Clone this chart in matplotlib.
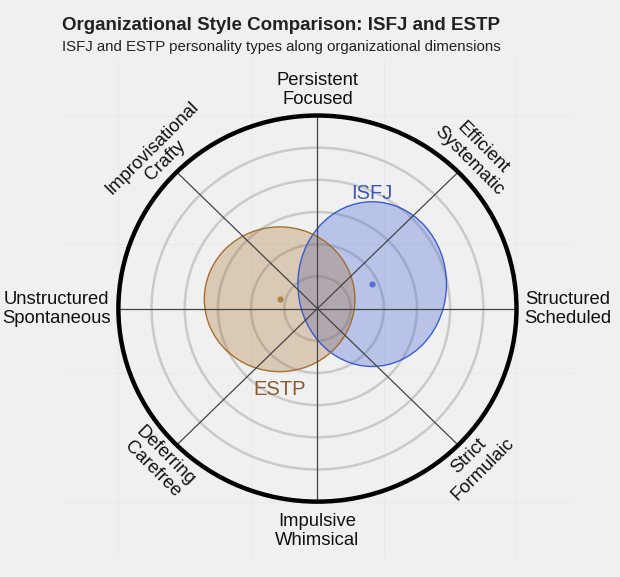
import numpy as np
import matplotlib
matplotlib.use("Agg")
import matplotlib.pyplot as plt
from matplotlib.patches import Ellipse, Circle

plt.rcParams['font.family'] = ['Liberation Sans', 'DejaVu Sans']

# ---- data ----
types = ['ISFJ', 'ESTP']
center_x = [1.65, -1.14]
center_y = [0.76, 0.29]
spread_x = [2.24, 2.27]
spread_y = [2.56, 2.25]
type_colors = ['#2850d2', '#a0641e']
label_colors = ['#3a56c0', '#8b5a2b']

dim_angles = [0, 45, 90, 135, 180, 225, 270, 315]
dim_labels = ['Structured\nScheduled', 'Efficient\nSystematic', 'Persistent\nFocused',
              'Improvisational\nCrafty', 'Unstructured\nSpontaneous', 'Deferring\nCarefree',
              'Impulsive\nWhimsical', 'Strict\nFormulaic']
ring_radii = [1, 2, 3, 4, 5]
outer_radius = 6

bg = '#f0f0f0'
fig = plt.figure(figsize=(6.2, 5.77), dpi=100, facecolor=bg)
ax = fig.add_axes([0.1, 0.0347, 0.824, 0.861])
ax.set_facecolor(bg)
ax.set_xlim(-7.7, 7.7)
ax.set_ylim(-7.72, 7.72)
for s in ax.spines.values():
    s.set_visible(False)
ax.set_xticks([-6, -2, 2, 6])
ax.set_yticks([-6, -2, 2, 6])
ax.tick_params(length=0, labelbottom=False, labelleft=False)
ax.grid(True, color='#e8e8e8', lw=0.6, zorder=0)
ax.set_axisbelow(True)

# rings
for r in ring_radii:
    ax.add_patch(Circle((0, 0), r, fill=False, ec='#cacaca', lw=1.8, zorder=1))

# ellipses
for i, t in enumerate(types):
    ax.add_patch(Ellipse((center_x[i], center_y[i]), 2 * spread_x[i], 2 * spread_y[i],
                         fc=type_colors[i], alpha=0.28, ec='none', zorder=2))
    ax.add_patch(Ellipse((center_x[i], center_y[i]), 2 * spread_x[i], 2 * spread_y[i],
                         fc='none', ec=type_colors[i], lw=1.0, alpha=0.9, zorder=3))
    ax.plot(center_x[i], center_y[i], 'o', ms=4.5, color=type_colors[i], alpha=0.7,
            mec='none', zorder=4)

# radial lines
for a in dim_angles:
    th = np.deg2rad(a)
    ax.plot([0, outer_radius * np.cos(th)], [0, outer_radius * np.sin(th)],
            color='#444444', lw=0.9, zorder=4)

ax.add_patch(Circle((0, 0), outer_radius, fill=False, ec='black', lw=3.2, zorder=5))

# type labels
ax.text(center_x[0], center_y[0] + spread_y[0] + 0.1, types[0], color=label_colors[0],
        fontsize=14.5, ha='center', va='baseline', zorder=6)
ax.text(center_x[1], center_y[1] - spread_y[1] - 0.25, types[1], color=label_colors[1],
        fontsize=14.5, ha='center', va='top', zorder=6)

# dimension labels
fs = 13.3
lab_r = 6.22
for a, lab in zip(dim_angles, dim_labels):
    th = np.deg2rad(a)
    x, y = lab_r * np.cos(th), lab_r * np.sin(th)
    kw = dict(fontsize=fs, color='#111111', multialignment='center', linespacing=1.15)
    if a == 0:
        ax.text(x, y, lab, ha='left', va='center', **kw)
    elif a == 180:
        ax.text(x, y, lab, ha='right', va='center', **kw)
    elif a == 90:
        ax.text(x, y, lab, ha='center', va='bottom', **kw)
    elif a == 270:
        ax.text(0, -6.35, lab, ha='center', va='top', **kw)
    elif a == 45:
        ax.text(x, y, lab, ha='center', va='bottom', rotation=-45, rotation_mode='anchor', **kw)
    elif a == 135:
        ax.text(x, y, lab, ha='center', va='bottom', rotation=45, rotation_mode='anchor', **kw)
    elif a == 225:
        ax.text(x, y, lab, ha='center', va='top', rotation=-45, rotation_mode='anchor', **kw)
    elif a == 315:
        ax.text(x, y, lab, ha='center', va='top', rotation=45, rotation_mode='anchor', **kw)

fig.text(0.1, 0.948, 'Organizational Style Comparison: ISFJ and ESTP', fontsize=13.5,
         fontweight='bold', color='#222222', ha='left', va='baseline')
fig.text(0.1, 0.912, 'ISFJ and ESTP personality types along organizational dimensions',
         fontsize=10.8, color='#222222', ha='left', va='baseline')

fig.savefig('out.png', dpi=100, facecolor=bg)
